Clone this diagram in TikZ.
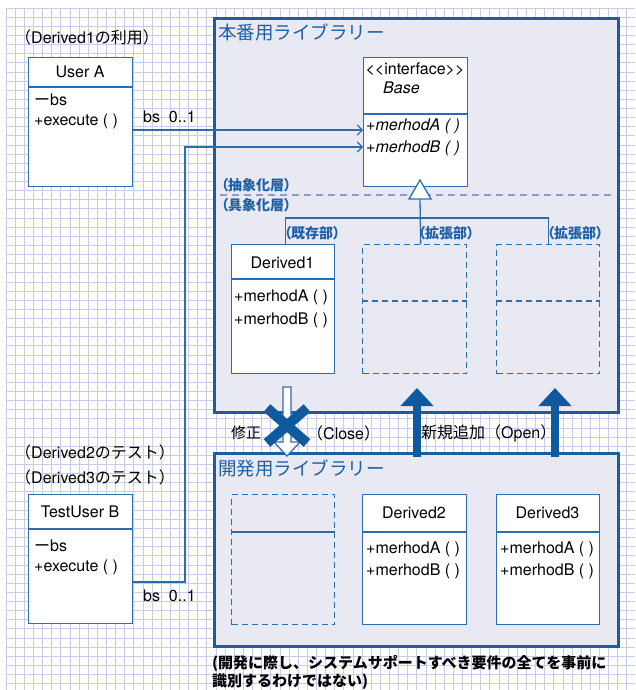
\documentclass[tikz,border=0pt]{standalone}
\usepackage{fontspec}
\setmainfont{TeX Gyre Heros}
\newfontfamily\cjk{Noto Sans CJK JP}
\newfontfamily\cjkp{Noto Sans CJK JP}[RawFeature=+palt]
\usetikzlibrary{arrows.meta,calc}
\definecolor{gridc}{HTML}{C9CCE6}
\definecolor{panelfill}{HTML}{E9E9F3}
\definecolor{panelblue}{HTML}{1F5C9E}
\definecolor{boxblue}{HTML}{2E6DAD}
\definecolor{arrowblue}{HTML}{0F5A9E}
\definecolor{dashgray}{HTML}{8E9BCB}
\definecolor{titleblue}{HTML}{1E60A8}
\tikzset{
  gridline/.style={draw=gridc, line width=0.8pt},
  panel/.style={draw=panelblue, fill=panelfill, line width=2.6pt, anchor=north west, inner sep=0pt},
  umlbox/.style={draw=boxblue, fill=white, line width=1.3pt, anchor=north west, inner sep=0pt, minimum width=104pt, minimum height=129pt},
  dbox/.style={draw=boxblue, dash pattern=on 6pt off 4pt, line width=1.3pt, anchor=north west, inner sep=0pt, minimum width=104pt, minimum height=129pt},
  sline/.style={draw=boxblue, line width=1.3pt},
  dline/.style={draw=boxblue, line width=1.3pt, dash pattern=on 6pt off 4pt},
  txt/.style={inner sep=0pt, font=\fontsize{16}{18}\selectfont},
  itxt/.style={inner sep=0pt, font=\fontsize{16}{18}\selectfont\itshape},
  bluelbl/.style={inner sep=0pt, anchor=west, text=titleblue, font=\fontsize{14}{16}\selectfont\bfseries\cjkp},
  ttl/.style={inner sep=0pt, anchor=west, text=titleblue, font=\fontsize{18.5}{20}\selectfont\cjk},
  note/.style={inner sep=0pt, anchor=west, font=\fontsize{15}{17}\selectfont\bfseries\cjk},
  assoc/.style={draw=boxblue, line width=1.2pt, -{Straight Barb[length=5pt,width=10pt]}},
  blockup/.style={draw=arrowblue, line width=8pt, -{Triangle[length=18pt,width=32pt]}},
  cross/.style={draw=arrowblue, line width=10pt},
}
\begin{document}
\begin{tikzpicture}[x=1pt,y=-1pt]
\useasboundingbox (0,0) rectangle (635,690);
\fill[white] (0,0) rectangle (635,690);
% grid
\foreach \i in {0,...,68} \draw[gridline] ({6+\i*9.13},8) -- ({6+\i*9.13},690);
\foreach \j in {0,...,74} \draw[gridline] (6,{8+\j*9.13}) -- (635,{8+\j*9.13});

% panels
\node[panel, minimum width=404pt, minimum height=394pt] (prod) at (213,17) {};
\node[panel, minimum width=404pt, minimum height=193pt] (dev) at (213,452) {};
\node[ttl] (prodT) at (218,32) {本番用ライブラリー};
\node[ttl] (devT) at (218,468) {開発用ライブラリー};

% layer separator
\draw[draw=dashgray, line width=1.3pt, dash pattern=on 7pt off 5pt] (220,195) -- (613,195);
\node[bluelbl] (abs) at (221,185) {（抽象化層）};
\node[bluelbl] (conc) at (221,205) {（具象化層）};

% User A
\node[txt, anchor=west] (uaL) at (15,37) {{\cjk （}Derived1{\cjk の利用）}};
\node[umlbox] (ua) at (28,57) {};
\draw[sline] (ua.west |- 0,87) -- (ua.east |- 0,87);
\node[txt] (uaT) at (80,72) {User A};
\node[txt, anchor=west] (uaA) at (34,100) {{\cjk ー}bs};
\node[txt, anchor=west] (uaM) at (34,121) {+execute ( )};

% TestUser B
\node[txt, anchor=west] (tbL1) at (15,452) {{\cjk （}Derived2{\cjk のテスト）}};
\node[txt, anchor=west] (tbL2) at (15,477) {{\cjk （}Derived3{\cjk のテスト）}};
\node[umlbox] (tb) at (28,494) {};
\draw[sline] (tb.west |- 0,529) -- (tb.east |- 0,529);
\node[txt] (tbT) at (80,512) {TestUser B};
\node[txt, anchor=west] (tbA) at (34,546) {{\cjk ー}bs};
\node[txt, anchor=west] (tbM) at (34,567) {+execute ( )};

% Base interface
\node[umlbox] (base) at (363,57) {};
\draw[sline] (base.west |- 0,114) -- (base.east |- 0,114);
\node[txt] (baseS) at (415,69) {<{}<interface>{}>};
\node[itxt, anchor=west] (baseN) at (383,88) {Base};
\node[itxt, anchor=west] (baseA) at (366,126) {+merhodA ( )};
\node[itxt, anchor=west] (baseB) at (366,148) {+merhodB ( )};

% associations
\coordinate (a1) at (0,130);
\coordinate (a2) at (0,147);
\coordinate (bend) at (185,0);
\coordinate (a3) at (0,582);
\draw[assoc] (ua.east |- a1) -- (base.west |- a1);
\draw[assoc] (tb.east |- a3) -- (bend |- a3) -- (bend |- a2) -- (base.west |- a2);
\node[txt, anchor=west] (m1) at (143,117) {bs\ \ 0..1};
\node[txt, anchor=west] (m2) at (143,596) {bs\ \ 0..1};

% concrete layer boxes
\node[umlbox, minimum width=103pt, minimum height=129pt] (d1) at (231,244) {};
\draw[sline] (d1.west |- 0,279) -- (d1.east |- 0,279);
\node[txt] (d1T) at (282.5,263) {Derived1};
\node[txt, anchor=west] (d1A) at (234,297) {+merhodA ( )};
\node[txt, anchor=west] (d1B) at (234,320) {+merhodB ( )};

\node[dbox] (x2) at (362,244) {};
\draw[dline] (x2.west |- 0,301) -- (x2.east |- 0,301);
\node[dbox, minimum width=103pt] (x3) at (496,244) {};
\draw[dline] (x3.west |- 0,301) -- (x3.east |- 0,301);

% generalization
\coordinate (tip) at (420,180);
\coordinate (triB) at (420,199);
\coordinate (junc) at (420,218);
\draw[sline] ([xshift=2pt]d1.north) |- (junc) -| (x3.north);
\draw[sline] ([xshift=6pt]x2.north) -- (triB);
\draw[sline, fill=white] (tip) -- ($(triB)+(11,0)$) -- ($(triB)+(-11,0)$) -- cycle;
\node[bluelbl] (lk) at (284,233) {（既存部）};
\node[bluelbl] (le1) at (418,233) {（拡張部）};
\node[bluelbl] (le2) at (547,233) {（拡張部）};

% development boxes
\node[dbox, minimum width=103pt, minimum height=130pt] (y1) at (231,494) {};
\draw[sline] (y1.west |- 0,532) -- (y1.east |- 0,532);
\node[umlbox, minimum height=130pt] (d2) at (362,494) {};
\draw[sline] (d2.west |- 0,532) -- (d2.east |- 0,532);
\node[txt] (d2T) at (414,513) {Derived2};
\node[txt, anchor=west] (d2A) at (366,549) {+merhodA ( )};
\node[txt, anchor=west] (d2B) at (366,571) {+merhodB ( )};
\node[umlbox, minimum width=103pt, minimum height=130pt] (d3) at (496,494) {};
\draw[sline] (d3.west |- 0,532) -- (d3.east |- 0,532);
\node[txt] (d3T) at (547.5,513) {Derived3};
\node[txt, anchor=west] (d3A) at (500,549) {+merhodA ( )};
\node[txt, anchor=west] (d3B) at (500,571) {+merhodB ( )};

% block arrows
\coordinate (u1s) at (417,457);
\coordinate (u1t) at (417,388);
\coordinate (u2s) at (555,457);
\coordinate (u2t) at (555,388);
\draw[blockup] (u1s) -- (u1t);
\draw[blockup] (u2s) -- (u2t);

% closed (modification) arrow
\draw[draw=boxblue, fill=white, line width=1.2pt]
  (283,387) -- (291,387) -- (291,442) -- (300,442) -- (287,456) -- (274,442) -- (283,442) -- cycle;
\draw[cross] (267,408) -- (307,443);
\draw[cross] (307,408) -- (267,443);

\node[txt, font=\fontsize{15}{17}\selectfont\cjk] (mod) at (246,433) {修正};
\node[txt, anchor=west] (close) at (307,433) {{\cjk （}Close{\cjk ）}};
\node[txt, anchor=west] (open) at (421,433) {{\cjk 新規追加（}Open{\cjk ）}};

% footnote
\node[note] (n1) at (212,663) {(開発に際し、システムサポートすべき要件の全てを事前に};
\node[note] (n2) at (212,682) {識別するわけではない)};
\end{tikzpicture}
\end{document}
